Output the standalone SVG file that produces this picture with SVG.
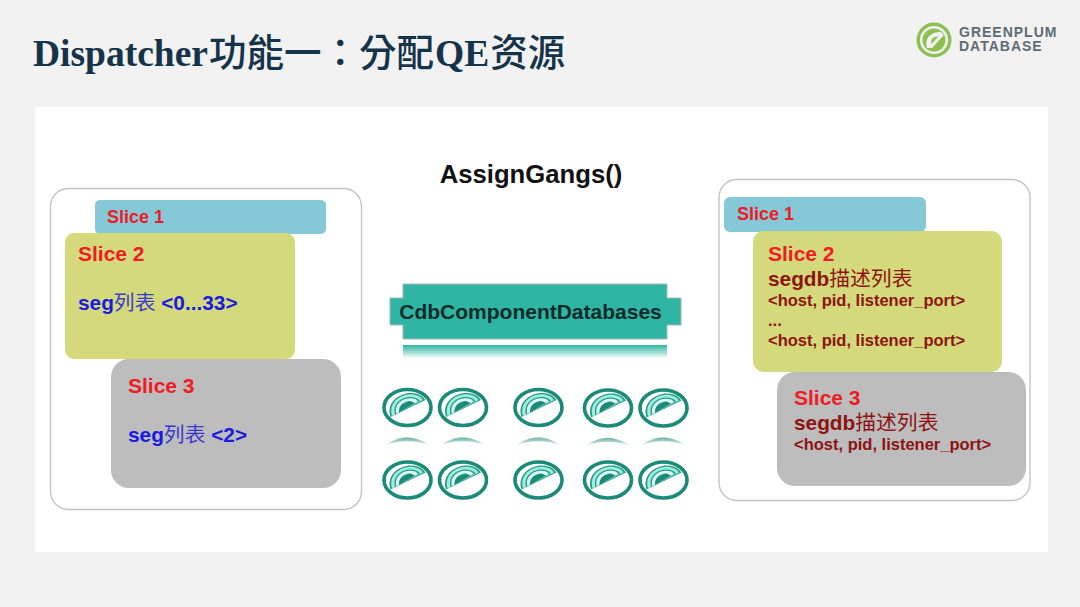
<svg xmlns="http://www.w3.org/2000/svg" xmlns:xlink="http://www.w3.org/1999/xlink" width="1080" height="607" viewBox="0 0 1080 607">
<style>
text{font-family:"Liberation Sans","Noto Sans CJK SC",sans-serif;font-weight:bold}
.cjk{font-family:"Noto Sans CJK SC",sans-serif;font-weight:400}
.title-cjk{font-family:"Noto Sans CJK TC",sans-serif;font-weight:500}
.panel{fill:#fff;stroke:#c4c4c4;stroke-width:1.4}
.red{fill:#ee1c25}
.blue{fill:#1a1ae0}
.dark{fill:#8e1313}
.ring{fill:#fff;stroke:#1c8a78;stroke-width:3.6}
</style>
<defs>
<linearGradient id="fade" x1="0" y1="0" x2="0" y2="1"><stop offset="0" stop-color="#2fb5a3"/><stop offset="1" stop-color="#2fb5a3" stop-opacity="0.05"/></linearGradient>
<linearGradient id="shineFade" x1="0" y1="0" x2="0" y2="1"><stop offset="0" stop-color="#6fb3a7"/><stop offset="1" stop-color="#6fb3a7" stop-opacity="0.2"/></linearGradient>
<g id="disk">
<ellipse class="ring" cx="0" cy="0" rx="23.500" ry="18"/>
<!-- nested fan bands, cut along the diagonal -->
<path d="M-17 9.500C-22-5-8-14.500 3-14.500C10-14.500 15-12 18-7.500Z" fill="#2a9a88"/>
<path d="M-15.500 8.500C-19.500-5-7-13.200 3-13.200C9-13.200 13-11 15.500-7.500Z" fill="#9beee2"/>
<path d="M-12.500 7C-15.500-4-6-10.500 3-10.500C7-10.500 10-9.500 12.500-6.500Z" fill="#2a9a88"/>
<path d="M-11.200 6.300C-13.800-3.500-5-9.200 3-9.200C6.500-9.200 9-8.300 10.500-6Z" fill="#d8f8f2"/>
<path d="M-8.500 5C-9.500-1.500-3.500-6.500 3-6.500L7.500-4.500Z" fill="#1c8a78"/>
</g>
<path id="shine" d="M-21 7C-10-3 9-3 21 7C9 2-10 2-21 7Z" fill="url(#shineFade)"/>
</defs>

<rect width="1080" height="607" fill="#f2f2f2"/>
<rect x="35" y="107" width="1013" height="445" fill="#fff"/>

<text id="title" x="33" y="66" font-size="37.500" fill="#15344a" style="font-family:'Liberation Serif','Noto Sans CJK SC',serif">Dispatcher<tspan class="title-cjk" dx="1">功能一：分配</tspan><tspan dx="1">QE</tspan><tspan class="title-cjk" dx="1">资源</tspan></text>

<g id="logo">
<circle cx="934" cy="40" r="15.800" fill="none" stroke="#8cc152" stroke-width="3.4"/>
<circle cx="934" cy="40" r="11.500" fill="#8cc152"/>
<path d="M927 48C924 38 931 32 941 32L944 35L932 48Z" fill="#f2f2f2"/>
<path d="M931.500 44C930 39 934 36 938.500 36.500Z" fill="#8cc152"/>
<text x="959" y="37" font-size="14" fill="#5e6b74" letter-spacing="1">GREENPLUM</text>
<text x="959" y="51" font-size="14" fill="#5e6b74" letter-spacing="1">DATABASE</text>
</g>

<text id="heading" x="531" y="183" font-size="25.700" fill="#111" text-anchor="middle">AssignGangs()</text>

<g id="left-panel">
<rect class="panel" x="50.500" y="188.500" width="311" height="321" rx="18"/>
<g id="left-slice-1"><rect x="95" y="200" width="231" height="34" rx="5" fill="#85c8d8"/>
<text class="red" x="107" y="223" font-size="18">Slice 1</text></g>
<g id="left-slice-2"><rect x="65" y="233" width="230" height="126" rx="9" fill="#d4da7b"/>
<text class="red" x="78" y="261" font-size="21">Slice 2</text>
<text class="blue" x="78" y="310" font-size="20.800">seg<tspan class="cjk" fill="#3a3ad0">列表</tspan> &lt;0...33&gt;</text></g>
<g id="left-slice-3"><rect x="111" y="359" width="230" height="129" rx="18" fill="#bdbdbd"/>
<text class="red" x="128" y="393" font-size="21">Slice 3</text>
<text class="blue" x="128" y="442" font-size="20.800">seg<tspan class="cjk" fill="#3a3ad0">列表</tspan> &lt;2&gt;</text></g>
</g>

<g id="cdb-component-databases">
<path d="M403 284H667V298H681V325H667V339H403V325H390V298H403Z" fill="#2fb5a3" stroke="#a9b5b2" stroke-width="1"/>
<text x="530.500" y="319" font-size="21" fill="#0c2a2a" text-anchor="middle">CdbComponentDatabases</text>
<rect x="403" y="345" width="264" height="13" fill="url(#fade)"/>
</g>

<g id="segments">
<g id="seg-1"><use xlink:href="#disk" x="407.500" y="407.500"/><use xlink:href="#shine" x="407.500" y="438"/></g>
<g id="seg-2"><use xlink:href="#disk" x="463" y="407.500"/><use xlink:href="#shine" x="463" y="438"/></g>
<g id="seg-3"><use xlink:href="#disk" x="538.500" y="407.500"/><use xlink:href="#shine" x="538.500" y="438"/></g>
<g id="seg-4"><use xlink:href="#disk" x="608" y="408"/><use xlink:href="#shine" x="608" y="438.500"/></g>
<g id="seg-5"><use xlink:href="#disk" x="663.500" y="408"/><use xlink:href="#shine" x="663.500" y="438"/></g>
<g id="seg-6"><use xlink:href="#disk" x="407.500" y="480"/></g>
<g id="seg-7"><use xlink:href="#disk" x="463" y="480"/></g>
<g id="seg-8"><use xlink:href="#disk" x="538.500" y="480"/></g>
<g id="seg-9"><use xlink:href="#disk" x="608" y="480"/></g>
<g id="seg-10"><use xlink:href="#disk" x="663.500" y="480"/></g>
</g>

<g id="right-panel">
<rect class="panel" x="719" y="179.500" width="311" height="321" rx="18"/>
<g id="right-slice-1"><rect x="724" y="197" width="202" height="35" rx="6" fill="#85c8d8"/>
<text class="red" x="737" y="220" font-size="18">Slice 1</text></g>
<g id="right-slice-2"><rect x="753" y="231" width="249" height="141" rx="11" fill="#d4da7b"/>
<text class="red" x="768" y="261" font-size="21">Slice 2</text>
<text class="dark" x="768" y="286" font-size="20.800">segdb<tspan class="cjk">描述列表</tspan></text>
<text class="dark" x="768" y="306" font-size="16.500">&lt;host, pid, listener_port&gt;</text>
<text class="dark" x="768" y="326" font-size="16.500">...</text>
<text class="dark" x="768" y="346" font-size="16.500">&lt;host, pid, listener_port&gt;</text></g>
<g id="right-slice-3"><rect x="777" y="372" width="249" height="114" rx="18" fill="#bdbdbd"/>
<text class="red" x="794" y="405" font-size="21">Slice 3</text>
<text class="dark" x="794" y="430" font-size="20.800">segdb<tspan class="cjk">描述列表</tspan></text>
<text class="dark" x="794" y="450" font-size="16.500">&lt;host, pid, listener_port&gt;</text></g>
</g>
</svg>
